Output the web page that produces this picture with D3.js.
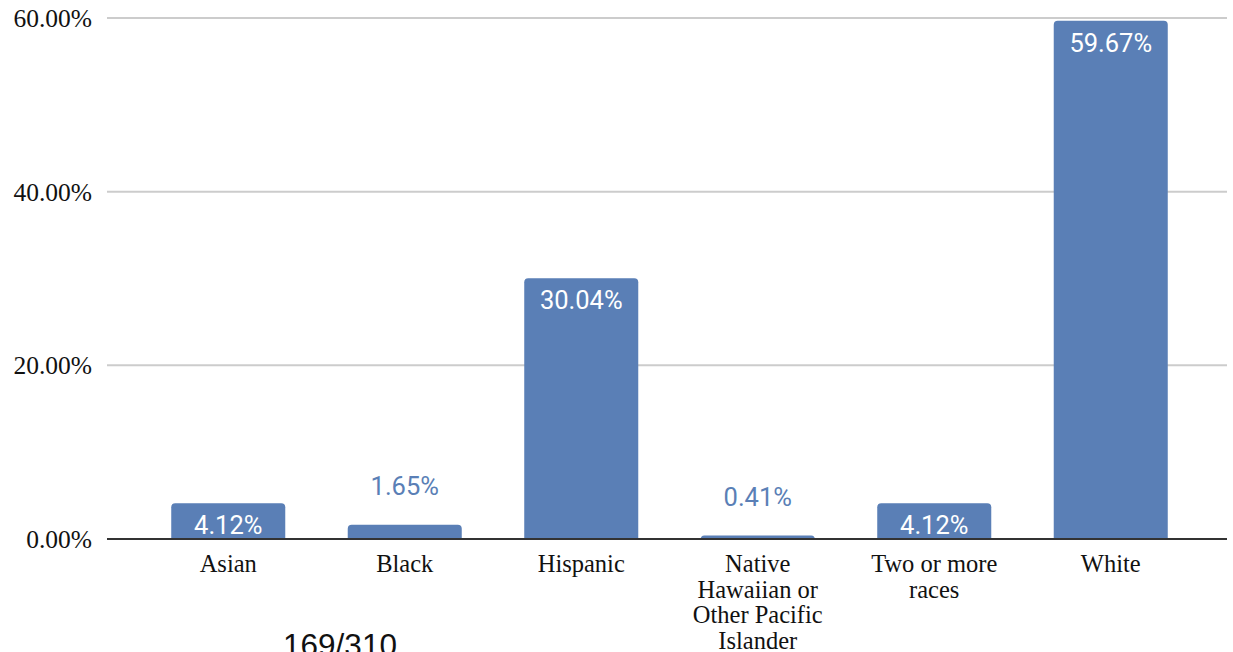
<!DOCTYPE html>
<html><head><meta charset="utf-8">
<script src="https://cdn.jsdelivr.net/npm/d3@7"></script>
<style>html,body{margin:0;padding:0;background:#fff;overflow:hidden}</style>
</head><body>
<svg id="chart" width="1233" height="652"></svg>
<script>
const categories = ["Asian","Black","Hispanic","Native Hawaiian or Other Pacific Islander","Two or more races","White"];
const categoryLines = [["Asian"],["Black"],["Hispanic"],["Native","Hawaiian or","Other Pacific","Islander"],["Two or more","races"],["White"]];
const values = [4.12, 1.65, 30.04, 0.41, 4.12, 59.67];
const yTicks = [0, 20, 40, 60];
const footnote = "169/310";

const svg = d3.select("#chart");
const barColor = "#5a7fb6";
const x = d3.scaleBand().domain(categories).range([140, 1199]).paddingInner(0.354).paddingOuter(0.177);
const y = d3.scaleLinear().domain([0, 60]).range([539, 18]);

// gridlines
svg.append("g").selectAll("line").data(yTicks.filter(d => d > 0)).join("line")
  .attr("x1", 107).attr("x2", 1227)
  .attr("y1", d => y(d)).attr("y2", d => y(d))
  .attr("stroke", "#cccccc").attr("stroke-width", 2);

// y labels
const yAxis = d3.axisLeft(y).tickValues(yTicks).tickFormat(d => d.toFixed(2) + "%").tickSize(0).tickPadding(0);
const gy = svg.append("g").attr("transform", "translate(92,0)").call(yAxis);
gy.select(".domain").remove();
gy.selectAll("text").attr("font-family", "'Liberation Serif', 'Times New Roman', serif")
  .attr("font-size", 25.5).attr("fill", "#111").attr("dy", "0.33em");

// bars with rounded top corners
function barPath(x0, w, top, bottom, r) {
  r = Math.min(r, bottom - top, w / 2);
  return `M${x0},${bottom}V${top + r}Q${x0},${top} ${x0 + r},${top}H${x0 + w - r}Q${x0 + w},${top} ${x0 + w},${top + r}V${bottom}Z`;
}
svg.append("g").selectAll("path").data(values).join("path")
  .attr("d", (d, i) => barPath(x(categories[i]), x.bandwidth(), y(d), y(0), 4))
  .attr("fill", barColor);

// baseline
svg.append("line").attr("x1", 107).attr("x2", 1227).attr("y1", y(0)).attr("y2", y(0))
  .attr("stroke", "#333").attr("stroke-width", 2);

// value labels
svg.append("g").selectAll("text").data(values).join("text")
  .attr("x", (d, i) => x(categories[i]) + x.bandwidth() / 2)
  .attr("y", d => (y(0) - y(d) > 30) ? y(d) + 21.5 : y(d) - 39)
  .attr("dy", "0.36em")
  .attr("text-anchor", "middle")
  .attr("font-family", "Roboto, 'Noto Sans', sans-serif")
  .attr("font-size", 25.5)
  .attr("fill", d => (y(0) - y(d) > 30) ? "#ffffff" : barColor)
  .text(d => d.toFixed(2) + "%");

// category labels
const cg = svg.append("g").selectAll("text").data(categories).join("text")
  .attr("x", d => x(d) + x.bandwidth() / 2)
  .attr("y", 572)
  .attr("text-anchor", "middle")
  .attr("font-family", "'Liberation Serif', 'Times New Roman', serif")
  .attr("font-size", 24.5).attr("fill", "#111");
cg.each(function(d, i) {
  const t = d3.select(this);
  categoryLines[i].forEach((ln, j) => {
    t.append("tspan").attr("x", x(d) + x.bandwidth() / 2).attr("dy", j === 0 ? 0 : 25.5).text(ln);
  });
});

// footnote
svg.append("text").attr("x", 340).attr("y", 656).attr("text-anchor", "middle")
  .attr("font-family", "'Liberation Sans', Arial, sans-serif").attr("font-size", 31.5)
  .attr("fill", "#111").text(footnote);
</script>
</body></html>
